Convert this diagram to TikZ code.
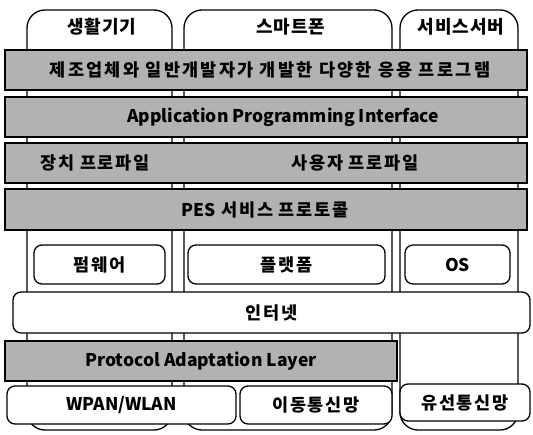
\documentclass[tikz,border=0pt]{standalone}
\usepackage{fontspec}
\setmainfont{Noto Sans CJK KR}
\begin{document}
\begin{tikzpicture}[x=1pt,y=-1pt,
  every node/.style={inner sep=0pt, outer sep=0pt},
  col/.style={draw=black, line width=1.3pt, fill=white, rounded corners=18pt},
  band/.style={draw=black, line width=1.6pt, fill=black!30},
  wbox/.style={draw=black, line width=1.3pt, fill=white, rounded corners=8pt},
  lbl/.style={font=\bfseries\fontsize{17.5}{20}\selectfont},
  kor/.style={font=\bfseries\fontsize{17.5}{20}\selectfont\addfontfeatures{LetterSpace=10}},
  korwide/.style={font=\bfseries\fontsize{17.5}{20}\selectfont\addfontfeatures{LetterSpace=13}},
  hlbl/.style={font=\bfseries\fontsize{18}{21}\selectfont\addfontfeatures{LetterSpace=5}}
]
\useasboundingbox (0,0) rectangle (533,434);
% columns
\node[col, minimum width=145pt, minimum height=420pt] (c1) at (99.5,220) {};
\node[col, minimum width=208pt, minimum height=420pt] (c2) at (288,220) {};
\node[col, minimum width=118pt, minimum height=420pt] (c3) at (459,220) {};
\node[hlbl] (h1) at (102,27) {생활기기};
\node[hlbl] (h2) at (291,27) {스마트폰};
\node[hlbl] (h3) at (461,27) {서비스서버};
% bands
\node[band, minimum width=522pt, minimum height=40pt] (b1) at (266,70) {};
\node[korwide] (t1) at (270,70) {제조업체와 일반개발자가 개발한 다양한 응용 프로그램};
\node[band, minimum width=522pt, minimum height=40pt] (b2) at (266,117) {};
\node[lbl] (t2) at (283,117) {Application Programming Interface};
\node[band, minimum width=522pt, minimum height=40pt] (b3) at (266,163) {};
\node[kor] (t3a) at (95,163) {장치 프로파일};
\node[kor] (t3b) at (355,163) {사용자 프로파일};
\node[band, minimum width=522pt, minimum height=41pt] (b4) at (266,209.5) {};
\node[kor] (t4) at (265,209.5) {{\addfontfeatures{LetterSpace=0}PES} 서비스 프로토콜};
% boxes
\node[wbox, kor, minimum width=131pt, minimum height=39pt] (fw) at (99.5,264.5) {펌웨어};
\node[wbox, kor, minimum width=197pt, minimum height=39pt] (pf) at (286.5,264.5) {플랫폼};
\node[wbox, lbl, minimum width=105pt, minimum height=39pt] (os) at (457.5,264.5) {OS};
\node[wbox, kor, minimum width=517pt, minimum height=41pt] (inet) at (271.5,312.5) {인터넷};
\node[band, lbl, minimum width=392pt, minimum height=40pt] (pal) at (201,361) {Protocol Adaptation Layer};
\node[wbox, lbl, minimum width=229pt, minimum height=38pt] (wpan) at (121.5,405) {WPAN/WLAN};
\node[wbox, kor, minimum width=152pt, minimum height=38pt] (mob) at (316,405) {이동통신망};
\node[wbox, kor, minimum width=130pt, minimum height=37pt] (wire) at (465,402.5) {유선통신망};
\end{tikzpicture}
\end{document}
